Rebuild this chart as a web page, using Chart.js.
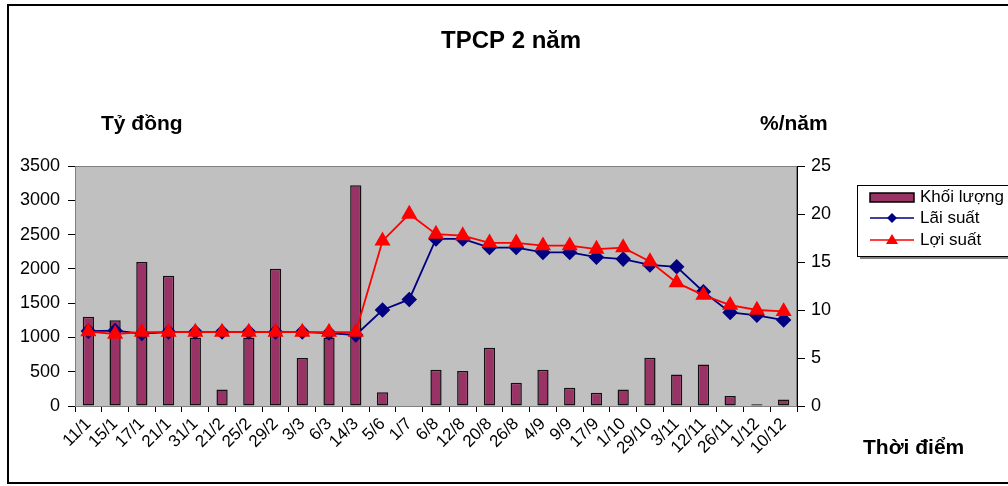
<!DOCTYPE html>
<html>
<head>
<meta charset="utf-8">
<script src="https://cdn.jsdelivr.net/npm/chart.js@4/dist/chart.umd.min.js"></script>
<style>
  html, body { margin: 0; padding: 0; background: #fff; }
  #wrap { width: 1008px; height: 486px; position: relative; }
</style>
</head>
<body>
<div id="wrap"><canvas id="tpcpChart" width="1008" height="486"></canvas></div>
<script>
// Thời điểm (trục hoành)
const ngay = ['11/1', '15/1', '17/1', '21/1', '31/1', '21/2', '25/2', '29/2', '3/3', '6/3', '14/3',
    '5/6', '1/7', '6/8', '12/8', '20/8', '26/8', '4/9', '9/9', '17/9', '1/10', '29/10',
    '3/11', '12/11', '26/11', '1/12', '10/12'];

// Khối lượng (tỷ đồng)
const khoiLuong = [1300, 1250, 2100, 1900, 1000, 240, 1000, 2000, 700, 1000, 3220,
    200, 0, 530, 510, 850, 340, 530, 265, 195, 240, 705,
    460, 605, 145, 25, 95];

// Lãi suất (%/năm)
const laiSuat = [7.8, 7.85, 7.55, 7.7, 7.7, 7.7, 7.7, 7.7, 7.7, 7.6, 7.4,
    10.0, 11.1, 17.4, 17.4, 16.5, 16.5, 16.0, 16.0, 15.5, 15.3, 14.7,
    14.5, 11.9, 9.75, 9.45, 8.95];

// Lợi suất (%/năm)
const loiSuat = [7.75, 7.5, 7.7, 7.7, 7.7, 7.7, 7.7, 7.7, 7.7, 7.7, 7.7,
    17.2, 20.0, 17.9, 17.75, 17.0, 17.0, 16.7, 16.7, 16.35, 16.5, 15.05,
    12.85, 11.55, 10.5, 10.0, 9.85];

const ticksTrai = [0, 500, 1000, 1500, 2000, 2500, 3000, 3500];
const ticksPhai = [0, 5, 10, 15, 20, 25];

const FONT = 'Arial, "Liberation Sans", sans-serif';

// Vẽ tiêu đề, nhãn đơn vị, khung và chú thích
const trangTri = {
    id: 'trangTri',
    beforeDraw(chart) {
        const { ctx, chartArea: a } = chart;
        ctx.save();
        ctx.fillStyle = '#c0c0c0';
        ctx.fillRect(a.left, a.top, a.right - a.left, a.bottom - a.top);
        ctx.restore();
    },
    afterDraw(chart) {
        const { ctx, chartArea: a } = chart;
        ctx.save();
        // khung ngoài
        ctx.strokeStyle = '#000';
        ctx.lineWidth = 2;
        ctx.beginPath();
        ctx.moveTo(1008, 5); ctx.lineTo(8, 5); ctx.lineTo(8, 483); ctx.lineTo(1008, 483);
        ctx.stroke();
        // viền vùng vẽ
        ctx.strokeStyle = '#808080';
        ctx.lineWidth = 1;
        ctx.strokeRect(a.left + 0.5, a.top + 0.5, a.right - a.left - 1, a.bottom - a.top);

        ctx.fillStyle = '#000';
        ctx.font = 'bold 24px ' + FONT;
        ctx.textAlign = 'center';
        ctx.textBaseline = 'middle';
        ctx.fillText('TPCP 2 năm', 511, 41);
        ctx.font = 'bold 21px ' + FONT;
        ctx.textAlign = 'left';
        ctx.fillText('Tỷ đồng', 101, 124);
        ctx.fillText('%/năm', 760, 124);
        ctx.fillText('Thời điểm', 863, 448);

        // chú thích
        const lx = 857, ly = 185;
        ctx.fillStyle = '#808080';
        ctx.fillRect(lx + 3, ly + 71, 160, 3);
        ctx.fillStyle = '#fff';
        ctx.fillRect(lx, ly, 160, 71);
        ctx.strokeStyle = '#000';
        ctx.strokeRect(lx + 0.5, ly + 0.5, 160, 71);
        ctx.font = '17px ' + FONT;
        ctx.fillStyle = '#993366';
        ctx.fillRect(lx + 13, ly + 8, 44, 9);
        ctx.strokeStyle = '#000';
        ctx.lineWidth = 1.5;
        ctx.strokeRect(lx + 13, ly + 8, 44, 9);
        ctx.fillStyle = '#000';
        ctx.fillText('Khối lượng', lx + 63, ly + 12);
        // Lãi suất
        ctx.strokeStyle = '#000080';
        ctx.lineWidth = 1.5;
        ctx.beginPath(); ctx.moveTo(lx + 13, ly + 33); ctx.lineTo(lx + 57, ly + 33); ctx.stroke();
        ctx.fillStyle = '#000080';
        ctx.beginPath();
        ctx.moveTo(lx + 35, ly + 28); ctx.lineTo(lx + 40, ly + 33); ctx.lineTo(lx + 35, ly + 38); ctx.lineTo(lx + 30, ly + 33);
        ctx.closePath(); ctx.fill();
        ctx.fillStyle = '#000';
        ctx.fillText('Lãi suất', lx + 63, ly + 33);
        // Lợi suất
        ctx.strokeStyle = '#ff0000';
        ctx.beginPath(); ctx.moveTo(lx + 13, ly + 55); ctx.lineTo(lx + 57, ly + 55); ctx.stroke();
        ctx.fillStyle = '#ff0000';
        ctx.beginPath();
        ctx.moveTo(lx + 35, ly + 49); ctx.lineTo(lx + 41, ly + 59); ctx.lineTo(lx + 29, ly + 59);
        ctx.closePath(); ctx.fill();
        ctx.fillStyle = '#000';
        ctx.fillText('Lợi suất', lx + 63, ly + 55);
        ctx.restore();
    }
};

const ctx = document.getElementById('tpcpChart').getContext('2d');
new Chart(ctx, {
    data: {
        labels: ngay,
        datasets: [
            {
                type: 'line', label: 'Lãi suất', data: laiSuat, yAxisID: 'y2',
                borderColor: '#000080', backgroundColor: '#000080', borderWidth: 1.8,
                pointStyle: 'rectRot', pointRadius: 6.5, pointHoverRadius: 6.5, order: 1
            },
            {
                type: 'line', label: 'Lợi suất', data: loiSuat, yAxisID: 'y2',
                borderColor: '#ff0000', backgroundColor: '#ff0000', borderWidth: 1.8,
                pointStyle: 'triangle', pointRadius: 7.5, pointHoverRadius: 7.5, order: 0
            },
            {
                type: 'bar', label: 'Khối lượng', data: khoiLuong, yAxisID: 'y',
                backgroundColor: '#993366', borderColor: '#111', borderWidth: 1.5,
                borderSkipped: false, barPercentage: 0.42, categoryPercentage: 1, order: 2
            }
        ]
    },
    options: {
        responsive: false,
        animation: false,
        layout: { padding: { left: 5, right: 161, top: 166, bottom: 5 } },
        plugins: { legend: { display: false }, tooltip: { enabled: false }, title: { display: false } },
        scales: {
            x: {
                offset: true,
                grid: { display: true, drawOnChartArea: false, offset: true, tickLength: 6, color: '#000' },
                border: { color: '#000' },
                ticks: { color: '#000', font: { family: FONT, size: 17 }, maxRotation: 45, minRotation: 45, autoSkip: false, padding: 2 },
                afterFit: s => { s.height = 75; }
            },
            y: {
                position: 'left', min: 0, max: 3500,
                afterBuildTicks: s => { s.ticks = ticksTrai.map(v => ({ value: v })); },
                grid: { drawOnChartArea: false, tickLength: 7, color: '#000' },
                border: { color: '#000' },
                ticks: { color: '#000', font: { family: FONT, size: 18 }, padding: 8, callback: v => String(v) },
                afterFit: s => { s.width = 70; }
            },
            y2: {
                position: 'right', min: 0, max: 25,
                afterBuildTicks: s => { s.ticks = ticksPhai.map(v => ({ value: v })); },
                grid: { drawOnChartArea: false, tickLength: 8, color: '#000' },
                border: { color: '#000' },
                ticks: { color: '#000', font: { family: FONT, size: 18 }, padding: 6, callback: v => String(v) },
                afterFit: s => { s.width = 50; }
            }
        }
    },
    plugins: [trangTri]
});
</script>
</body>
</html>
